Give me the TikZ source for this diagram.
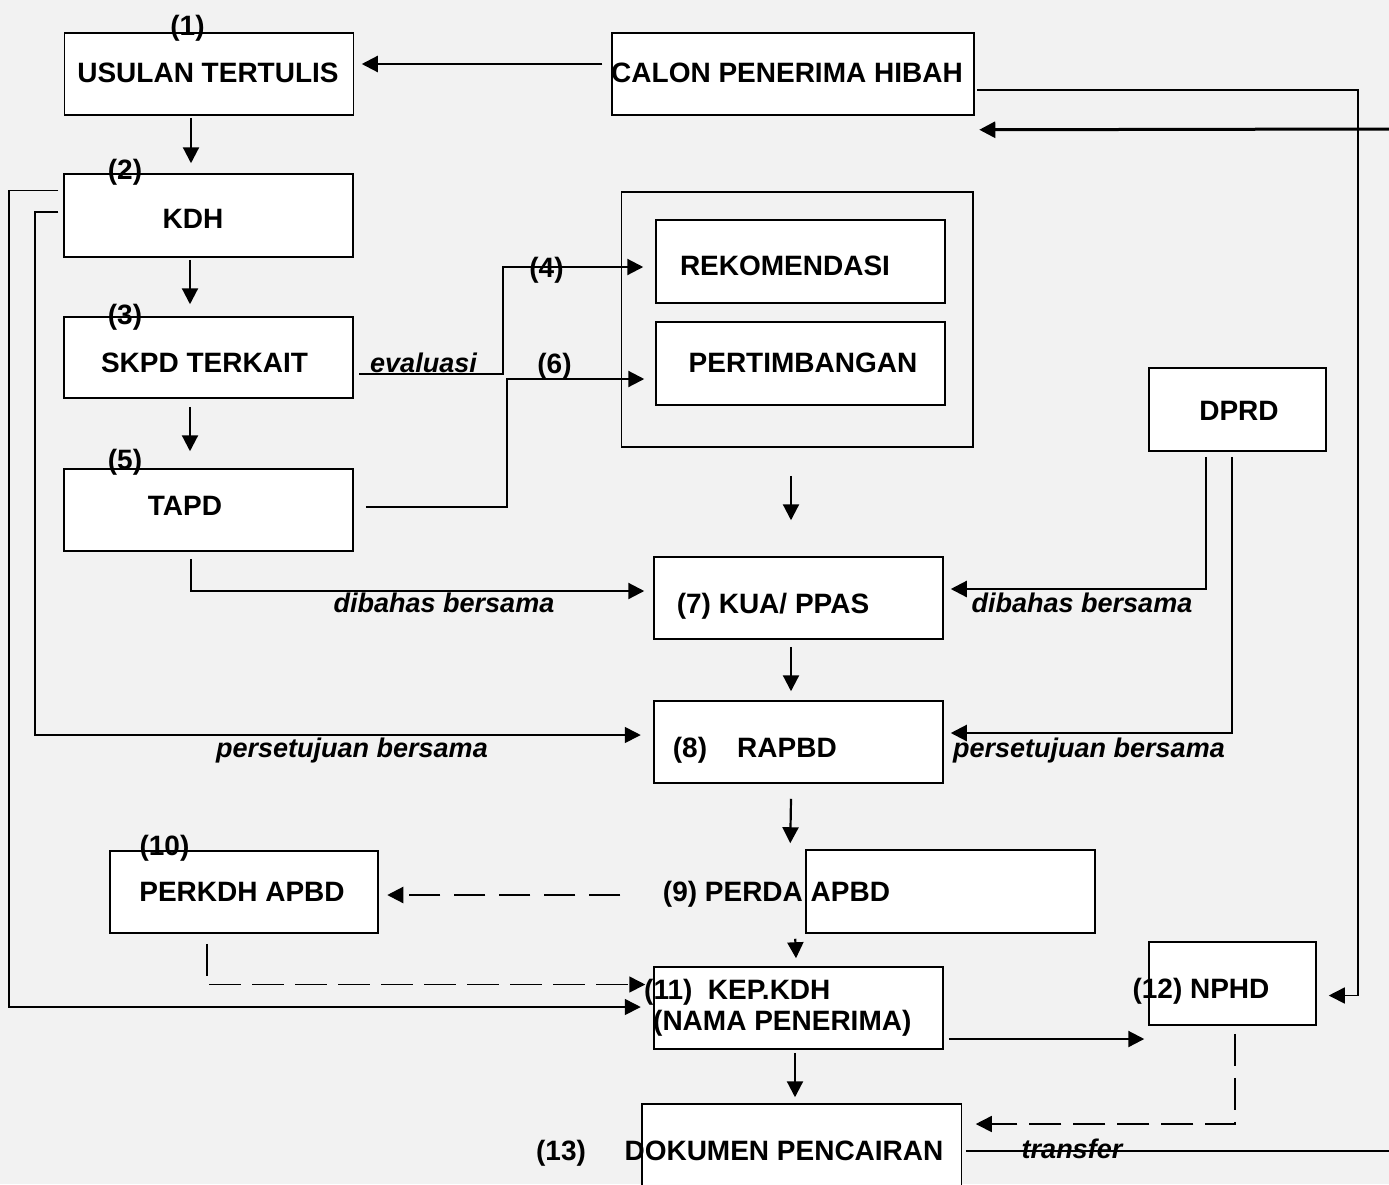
\documentclass[tikz,border=0pt]{standalone}
\usepackage{fontspec}
\setmainfont{Liberation Sans}
\usetikzlibrary{arrows.meta,calc}
\definecolor{bgc}{HTML}{F2F2F2}
\begin{document}
\begin{tikzpicture}[x=1pt,y=-1pt,
  box/.style={draw=black, line width=1.5pt, fill=white, inner sep=0pt},
  lbl/.style={font=\fontsize{28}{32}\selectfont\bfseries, inner sep=0pt, anchor=base},
  itl/.style={font=\fontsize{27}{30}\selectfont\bfseries\itshape, inner sep=0pt, anchor=base},
  conn/.style={line width=2.2pt},
  thin conn/.style={line width=1.6pt},
  tip/.style={-{Triangle[length=16pt,width=16pt]}},
  dsh/.style={dash pattern=on 31pt off 14pt}
]
\useasboundingbox (0,0) rectangle (1389,1184);
\clip (0,0) rectangle (1389,1184);
\fill[bgc] (0,0) rectangle (1389,1184);

% boxes
\node[box, minimum width=289, minimum height=82] (usulan) at (209,74) {};
\node[box, minimum width=362, minimum height=82] (calon) at (793,74) {};
\node[box, minimum width=289, minimum height=83] (kdh) at (208.5,215.5) {};
\node[box, minimum width=289, minimum height=81] (skpd) at (208.5,357.5) {};
\node[box, minimum width=289, minimum height=82] (tapd) at (208.5,510) {};
\node[draw=black, line width=1.5pt, inner sep=0pt, minimum width=351.5, minimum height=255] (cont) at (797.25,319.5) {};
\node[box, minimum width=289, minimum height=83] (rekom) at (800.5,261.5) {};
\node[box, minimum width=289, minimum height=83] (pertim) at (800.5,363.5) {};
\node[box, minimum width=177, minimum height=83] (dprd) at (1237.5,409.5) {};
\node[box, minimum width=289, minimum height=82] (kua) at (798.5,598) {};
\node[box, minimum width=289, minimum height=82] (rapbd) at (798.5,742) {};
\node[box, minimum width=289, minimum height=83] (perda) at (950.5,891.5) {};
\node[box, minimum width=268, minimum height=82] (perkdh) at (244,892) {};
\node[box, minimum width=289, minimum height=82] (kep) at (798.5,1008) {};
\node[box, minimum width=167, minimum height=83] (nphd) at (1232.5,983.5) {};
\node[box, minimum width=319.5, minimum height=90] (dok) at (801.75,1149) {};

% texts
\node[lbl] (t1) at (187.5,35) {(1)};
\node[lbl] (tusulan) at (208,82) {USULAN TERTULIS};
\node[lbl] (tcalon) at (787,82) {CALON PENERIMA HIBAH};
\node[lbl] (t2) at (125,179) {(2)};
\node[lbl] (tkdh) at (193,228) {KDH};
\node[lbl] (t3) at (125,324) {(3)};
\node[lbl] (tskpd) at (204.5,372) {SKPD TERKAIT};
\node[itl] (teval) at (423.5,372) {evaluasi};
\node[lbl] (t4) at (546.5,277) {(4)};
\node[lbl] (t6) at (554.5,373) {(6)};
\node[lbl] (t5) at (125,469) {(5)};
\node[lbl] (ttapd) at (185,515) {TAPD};
\node[itl] (tdib1) at (444,612) {dibahas bersama};
\node[lbl] (trekom) at (785,275) {REKOMENDASI};
\node[lbl] (tpertim) at (803,372) {PERTIMBANGAN};
\node[lbl] (tdprd) at (1239,420) {DPRD};
\node[lbl] (tkua) at (773,613) {(7) KUA/ PPAS};
\node[itl] (tdib2) at (1082,612) {dibahas bersama};
\node[itl] (tpers1) at (352,757) {persetujuan bersama};
\node[lbl] (t8) at (690,757) {(8)};
\node[lbl] (trapbd) at (787,757) {RAPBD};
\node[itl] (tpers2) at (1089,757) {persetujuan bersama};
\node[lbl] (tperda) at (776.5,901) {(9) PERDA APBD};
\node[lbl] (t10) at (164.5,855) {(10)};
\node[lbl] (tperkdh) at (242,901) {PERKDH APBD};
\node[lbl, anchor=base west] (tkep1) at (644,999) {(11)\ \ KEP.KDH};
\node[lbl, anchor=base west] (tkep2) at (653,1030) {(NAMA PENERIMA)};
\node[lbl] (tnphd) at (1201,998) {(12) NPHD};
\node[lbl] (t13) at (561,1160) {(13)};
\node[lbl] (tdok) at (784,1160) {DOKUMEN PENCAIRAN};
\node[itl] (ttrans) at (1072,1158) {transfer};

% off-picture ends
\coordinate (edgeR) at (1389,129);
\coordinate (edgeT) at (1389,1151);

% connectors
\draw[conn, tip] ($(calon.west)+(-9,-10)$) -- ($(usulan.east)+(7.5,-10)$);
\draw[thin conn, tip] ($(calon.east)+(2.5,16)$) -| ($(nphd.east)+(41,12)$) -- ($(nphd.east)+(12,12)$);
\draw[line width=3pt, tip] (edgeR) -- ($(calon.south east)+(4.5,14)$);
\draw[thin conn] ($(dok.east)+(3.5,2)$) -- (edgeT);

\draw[conn, tip] ($(usulan.south)+(-18,2)$) -- ($(kdh.north)+(-17.5,-10)$);
\draw[conn, tip] ($(kdh.south)+(-18.5,2)$) -- ($(skpd.north)+(-18.5,-12)$);
\draw[conn, tip] ($(skpd.south)+(-18.5,8)$) -- ($(tapd.north)+(-18.5,-17)$);

\draw[thin conn, tip] ($(kdh.west)+(-5,-25)$) -- ++(-49,0) |- ($(kep.west)+(-12.5,-1)$);
\draw[thin conn, tip] ($(kdh.west)+(-5,-3.5)$) -- ++(-23,0) |- ($(rapbd.west)+(-12.5,-7)$);

\draw[conn, tip] ($(skpd.east)+(5.5,16.5)$) -- ++(143.5,0) |- ($(rekom.west)+(-12,5.5)$);
\draw[conn, tip] ($(tapd.east)+(12,-3)$) -- ++(141,0) |- ($(pertim.west)+(-11,15.5)$);

\draw[conn, tip] ($(cont.south)+(-6.25,28)$) -- ($(kua.north)+(-7.5,-36)$);
\draw[conn, tip] ($(tapd.south)+(-17.5,7)$) |- ($(kua.west)+(-9,-7)$);
\draw[conn, tip] ($(dprd.south)+(-31.5,5)$) |- ($(kua.east)+(7,-9)$);
\draw[conn, tip] ($(dprd.south)+(-5.5,5)$) |- ($(rapbd.east)+(7,-9)$);
\draw[conn, tip] ($(kua.south)+(-7.5,7)$) -- ($(rapbd.north)+(-7.5,-9)$);
\draw[conn, tip] ($(rapbd.south)+(-7.5,15)$) -- ($(perda.north west)+(-15,-6)$);

\draw[conn, dsh, tip] ($(perda.west)+(-185,3.5)$) -- ($(perkdh.east)+(8.5,3)$);
\draw[thin conn, dash pattern=on 32pt off 11pt, tip] ($(perkdh.south)+(-37,10)$) |- ($(kep.west)+(-8,-23.5)$);
\draw[conn, tip] ($(perda.south west)+(-10,5)$) -- ($(kep.north)+(-2.5,-8)$);
\draw[conn, tip] ($(kep.east)+(5,31)$) -- ($(nphd.west)+(-4,55.5)$);
\draw[conn, tip] ($(kep.south)+(-3.5,3)$) -- ($(dok.north)+(-6.75,-6)$);
\draw[thin conn, dash pattern=on 32pt off 12pt, tip] ($(nphd.south)+(2.5,8)$) |- ($(dok.east)+(13.5,-25)$);
\end{tikzpicture}
\end{document}
